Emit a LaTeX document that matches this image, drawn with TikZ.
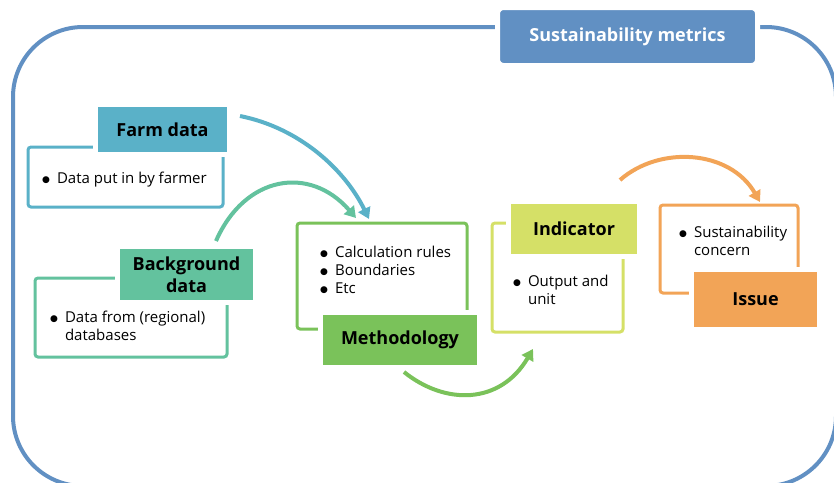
\documentclass[tikz,border=0pt]{standalone}
\usepackage{fontspec}
\setmainfont{Open Sans}
\newfontfamily\djv{DejaVu Sans}
\usetikzlibrary{arrows.meta}
\definecolor{frameblue}{HTML}{6190C3}
\definecolor{farmc}{HTML}{5AB1C8}
\definecolor{bgc}{HTML}{63C29E}
\definecolor{methc}{HTML}{7AC25A}
\definecolor{indc}{HTML}{D5E067}
\definecolor{issc}{HTML}{F2A457}
\tikzset{
  outline/.style={draw=#1, line width=3pt, rounded corners=3pt, fill=white, inner sep=0pt},
  header/.style={fill=#1, draw=white, line width=5pt, font=\bfseries\fontsize{18}{22}\selectfont, align=center, inner sep=0pt},
  bodytext/.style={font=\fontsize{15}{18}\selectfont, anchor=base west, inner sep=0pt},
  flow/.style={draw=#1, line width=4pt, -{Triangle[length=11pt,width=13pt]}},
}
\newcommand{\bdot}{{\djv\fontsize{9}{9}\selectfont\raisebox{0.6pt}{●}}}
\newcommand{\bul}[1]{\begin{tabular}[t]{@{}l@{\hspace{7pt}}l@{}}\bdot & #1\end{tabular}}
\begin{document}
\begin{tikzpicture}[x=1pt,y=-1pt]
\useasboundingbox (0,0) rectangle (834,482);
\clip (0,0) rectangle (834,482);
% outer frame
\draw[frameblue, line width=4pt, rounded corners=70pt] (13,27) rectangle (836,486);
\node[fill=frameblue, draw=white, line width=5pt, rounded corners=6pt, minimum width=260pt, minimum height=58pt, inner sep=0pt, text=white, font=\bfseries\fontsize{18}{22}\selectfont] (title) at (627.5,36.5) {Sustainability metrics};
% farm data
\node[outline=farmc, minimum width=195pt, minimum height=60pt] (farmbox) at (125.5,177) {};
\node[header=farmc, minimum width=134pt, minimum height=50pt] (farmh) at (162.5,129.5) {Farm data};
\node[bodytext] (farmt) at (42,183) {\bul{Data put in by farmer}};
% background data
\node[outline=bgc, minimum width=192pt, minimum height=79pt] (bgbox) at (131,317.5) {};
\node[header=bgc, minimum width=138pt, minimum height=56pt] (bgh) at (186.5,274.5) {Background\\data};
\node[bodytext] (bgt) at (50,322) {\bul{Data from (regional)\\ & databases}};
% methodology
\node[outline=methc, minimum width=170pt, minimum height=106pt] (methbox) at (382,276) {};
\node[header=methc, minimum width=159pt, minimum height=55pt] (methh) at (400,340) {Methodology};
\node[bodytext] (metht) at (320,257) {\bul{Calculation rules\\ \bdot & Boundaries\\ \bdot & Etc}};
% indicator
\node[outline=indc, minimum width=131pt, minimum height=109pt] (indbox) at (557.5,277.5) {};
\node[header=indc, minimum width=131pt, minimum height=55pt] (indh) at (574,229) {Indicator};
\node[bodytext] (indt) at (513,286) {\bul{Output and\\ & unit}};
% issue
\node[outline=issc, minimum width=138pt, minimum height=88pt] (issbox) at (729,249) {};
\node[header=issc, minimum width=128pt, minimum height=60pt] (issh) at (755.5,299.5) {Issue};
\node[bodytext] (isst) at (679,237) {\bul{Sustainability\\ & concern}};
% connectors
\coordinate (a1s) at (240,116);
\coordinate (a1e) at (369,219);
\coordinate (a2s) at (216,241);
\coordinate (a2e) at (356,218);
\coordinate (a3s) at (404,372);
\coordinate (a3e) at (533,349);
\coordinate (a4s) at (620,180);
\coordinate (a4e) at (760,202);
\draw[flow=farmc] (a1s) .. controls (300,128) and (345,170) .. (a1e);
\draw[flow=bgc] (a2s) .. controls (245,175) and (310,165) .. (a2e);
\draw[flow=methc] (a3s) .. controls (445,405) and (500,405) .. (a3e);
\draw[flow=issc] (a4s) .. controls (660,145) and (730,150) .. (a4e);
\end{tikzpicture}
\end{document}
